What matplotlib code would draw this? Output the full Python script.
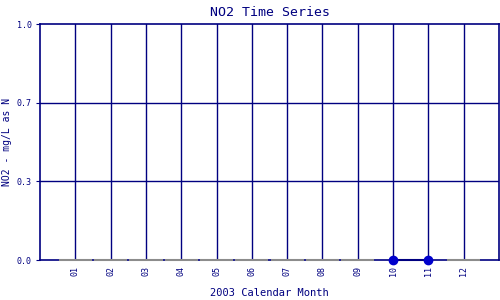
import matplotlib
matplotlib.use("Agg")
import matplotlib.pyplot as plt

months = [1, 2, 3, 4, 5, 6, 7, 8, 9, 10, 11, 12]
month_labels = ["01", "02", "03", "04", "05", "06", "07", "08", "09", "10", "11", "12"]
data_months = [10, 11]
data_values = [0.0, 0.0]
no_data_months = [1, 2, 3, 4, 5, 6, 7, 8, 9, 12]
y_ticks = [0.0, 1/3, 2/3, 1.0]
y_tick_labels = ["0.0", "0.3", "0.7", "1.0"]

navy = "#000080"
plt.rcParams['font.family'] = ['DejaVu Sans Mono']

fig = plt.figure(figsize=(5, 3), dpi=100)
ax = fig.add_axes([0.08, 0.1333, 0.918, 0.7867])
ax.set_xlim(0, 13)
ax.set_ylim(0, 1)

for s in ax.spines.values():
    s.set_color(navy)
    s.set_linewidth(1.2)

for m in months:
    ax.axvline(m, color=navy, lw=1.0, zorder=1)
for y in y_ticks[1:-1]:
    ax.axhline(y, color=navy, lw=1.0, zorder=1)

for m in no_data_months:
    ax.plot([m - 0.47, m + 0.47], [0, 0], color="#8c8c8c", lw=1.5, zorder=3,
            solid_capstyle="butt", clip_on=False)

ax.plot(data_months, data_values, color=navy, lw=1.5, zorder=4, clip_on=False)
ax.plot(data_months, data_values, 'o', color="#0000CC", markersize=6, zorder=5, clip_on=False)

ax.set_xticks(months)
ax.set_xticklabels(month_labels, rotation=90, fontsize=6, color=navy)
ax.tick_params(axis='x', length=0, pad=4)
ax.set_yticks(y_ticks)
ax.set_yticklabels(y_tick_labels, fontsize=6, color=navy)
ax.tick_params(axis='y', length=3, color=navy, pad=3)

ax.set_title("NO2 Time Series", fontsize=9.5, color=navy, pad=6)
ax.set_xlabel("2003 Calendar Month", fontsize=7.5, color=navy, labelpad=9)
ax.set_ylabel("NO2 - mg/L as N", fontsize=7, color=navy, labelpad=2)
ax.yaxis.set_label_coords(-0.062, 0.5)

fig.savefig("out.png", dpi=100)
